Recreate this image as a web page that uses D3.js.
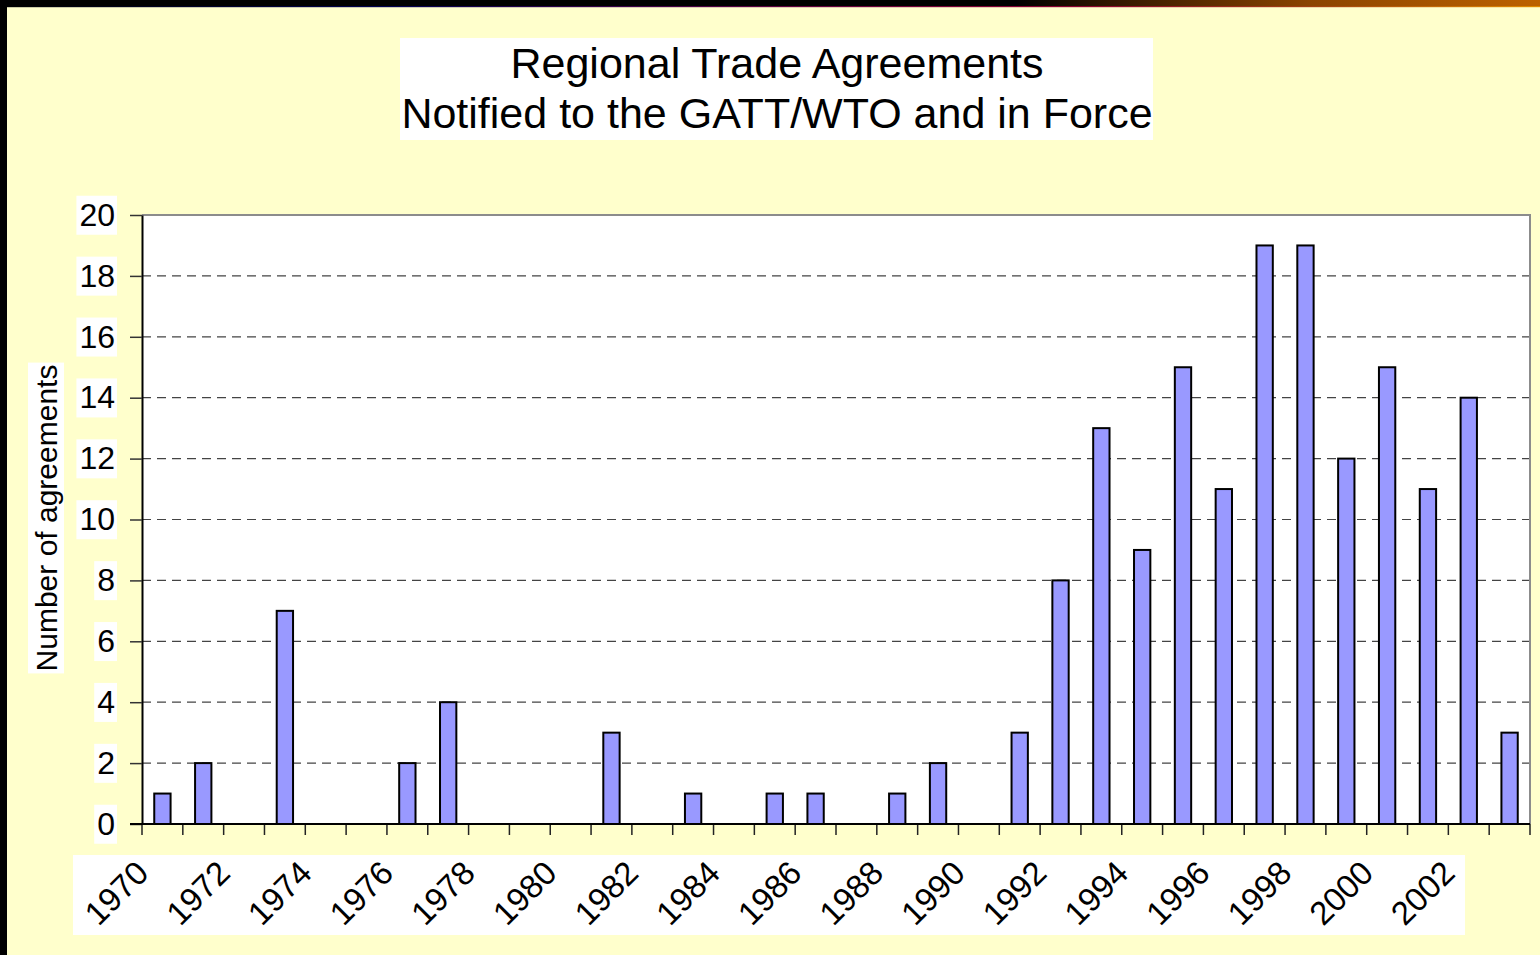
<!DOCTYPE html>
<html>
<head>
<meta charset="utf-8">
<script src="https://cdn.jsdelivr.net/npm/d3@7"></script>
<style>
  html, body { margin: 0; padding: 0; background: #FFFFCC; }
  svg { display: block; font-family: Arial, "Liberation Sans", sans-serif; }
</style>
</head>
<body>
<div class="chart"></div>
<script>
// Data
var years = d3.range(1970, 2004).map(String);
var agreements = [1, 2, 0, 7, 0, 0, 2, 4, 0, 0, 0, 3, 0, 1, 0, 1, 1, 0, 1, 2, 0, 3,
                  8, 13, 9, 15, 11, 19, 19, 12, 15, 11, 14, 3];
var yTicks = [0, 2, 4, 6, 8, 10, 12, 14, 16, 18, 20];
var xLabels = years.filter(function (d, i) { return i % 2 === 0; });
var titleLines = ["Regional Trade Agreements", "Notified to the GATT/WTO and in Force"];
var yTitle = "Number of agreements";

(function () {
    var width = 1540, height = 955;
    var plot = { left: 142, right: 1530, top: 215, bottom: 824 };

    var svg = d3.select(".chart").append("svg")
        .attr("width", width)
        .attr("height", height);

    var defs = svg.append("defs");

    // Slide frame gradients
    var topGrad = defs.append("linearGradient").attr("id", "topbar");
    [[0, "#000000"], [0.66, "#000000"], [0.72, "#301600"], [0.85, "#8a4400"], [1, "#bd6200"]]
        .forEach(function (s) {
            topGrad.append("stop").attr("offset", s[0]).attr("stop-color", s[1]);
        });
    var lineGrad = defs.append("linearGradient").attr("id", "topline");
    [[0, "#000000"], [0.25, "#000050"], [0.5, "#5a0040"], [0.7, "#8a0030"], [0.85, "#a04010"], [1, "#e08a00"]]
        .forEach(function (s) {
            lineGrad.append("stop").attr("offset", s[0]).attr("stop-color", s[1]);
        });

    svg.append("rect").attr("width", width).attr("height", height).attr("fill", "#FFFFCC");
    svg.append("rect").attr("width", width).attr("height", 7).attr("fill", "url(#topbar)");
    svg.append("rect").attr("y", 6).attr("width", width).attr("height", 1.2).attr("fill", "url(#topline)");
    svg.append("rect").attr("width", 7).attr("height", height).attr("fill", "#000");

    // Title
    svg.append("rect")
        .attr("x", 400).attr("y", 38).attr("width", 753).attr("height", 102)
        .attr("fill", "#fff");
    svg.append("g").selectAll("text")
        .data(titleLines)
        .enter().append("text")
        .attr("x", 777)
        .attr("y", function (d, i) { return 78 + i * 50; })
        .attr("text-anchor", "middle")
        .attr("font-size", 43)
        .attr("fill", "#000")
        .text(function (d) { return d; });

    // Scales
    var x = d3.scaleBand().domain(years).range([plot.left, plot.right]).padding(0);
    var y = d3.scaleLinear().domain([0, 20]).range([plot.bottom, plot.top]);
    var barW = x.bandwidth() / 2.5;

    // Plot area
    svg.append("rect")
        .attr("x", plot.left).attr("y", plot.top)
        .attr("width", plot.right - plot.left).attr("height", plot.bottom - plot.top)
        .attr("fill", "#fff");

    // Gridlines
    svg.append("g").selectAll("line")
        .data(yTicks.filter(function (d) { return d > 0 && d < 20; }))
        .enter().append("line")
        .attr("x1", plot.left).attr("x2", plot.right)
        .attr("y1", function (d) { return y(d); })
        .attr("y2", function (d) { return y(d); })
        .attr("stroke", "#444")
        .attr("stroke-width", 1.2)
        .attr("stroke-dasharray", "9,6");

    // Border top and right
    svg.append("path")
        .attr("d", "M" + plot.left + "," + plot.top + "H" + plot.right + "V" + plot.bottom)
        .attr("fill", "none")
        .attr("stroke", "#8c8c8c")
        .attr("stroke-width", 2);

    // Bars
    svg.append("g").selectAll("rect")
        .data(agreements)
        .enter().append("rect")
        .attr("x", function (d, i) { return x(years[i]) + (x.bandwidth() - barW) / 2; })
        .attr("y", function (d) { return y(d); })
        .attr("width", barW)
        .attr("height", function (d) { return y(0) - y(d); })
        .attr("fill", "#9999FF")
        .attr("stroke", "#000")
        .attr("stroke-width", 2)
        .style("display", function (d) { return d > 0 ? null : "none"; });

    // Y axis
    var yAxis = svg.append("g")
        .attr("transform", "translate(" + plot.left + ",0)")
        .call(d3.axisLeft(y).tickValues(yTicks).tickSize(12).tickPadding(15).tickSizeOuter(0));
    yAxis.select(".domain").attr("stroke", "#000").attr("stroke-width", 2);
    yAxis.selectAll(".tick line").attr("stroke", "#333").attr("stroke-width", 1.5);
    yAxis.selectAll(".tick text")
        .attr("font-size", 32)
        .attr("font-family", "Arial, 'Liberation Sans', sans-serif")
        .attr("fill", "#000");
    // white box behind every tick label
    yAxis.selectAll(".tick").each(function () {
        var t = d3.select(this).select("text");
        var b = t.node().getBBox();
        var cy = b.y + b.height / 2;
        d3.select(this).insert("rect", function () { return t.node(); })
            .attr("x", b.x - 3).attr("y", cy - 19)
            .attr("width", b.width + 5).attr("height", 39)
            .attr("fill", "#fff");
    });

    // X axis: ticks at category boundaries
    var bounds = years.map(function (d) { return x(d); }).concat([plot.right]);
    svg.append("g").selectAll("line")
        .data(bounds)
        .enter().append("line")
        .attr("x1", function (d) { return d; })
        .attr("x2", function (d) { return d; })
        .attr("y1", plot.bottom)
        .attr("y2", plot.bottom + 11)
        .attr("stroke", "#222")
        .attr("stroke-width", 1.5);
    svg.append("line")
        .attr("x1", 130).attr("x2", plot.right)
        .attr("y1", plot.bottom).attr("y2", plot.bottom)
        .attr("stroke", "#000").attr("stroke-width", 2);

    // X labels
    svg.append("rect")
        .attr("x", 73).attr("y", 855).attr("width", 1392).attr("height", 80)
        .attr("fill", "#fff");
    svg.append("g").selectAll("text")
        .data(xLabels)
        .enter().append("text")
        .attr("transform", function (d) {
            return "translate(" + (x(d) + x.bandwidth() / 2 - 12) + ",875) rotate(-45)";
        })
        .attr("text-anchor", "end")
        .attr("font-size", 33)
        .attr("fill", "#000")
        .text(function (d) { return d; });

    // Y title with its white box
    var ytG = svg.append("g").attr("transform", "translate(57,518) rotate(-90)");
    var yt = ytG.append("text")
        .attr("text-anchor", "middle")
        .attr("font-size", 30)
        .attr("fill", "#000")
        .text(yTitle);
    var yb = yt.node().getBBox();
    ytG.insert("rect", function () { return yt.node(); })
        .attr("x", yb.x - 2).attr("y", yb.y - 2)
        .attr("width", yb.width + 4).attr("height", yb.height + 3)
        .attr("fill", "#fff");
})();
</script>
</body>
</html>
